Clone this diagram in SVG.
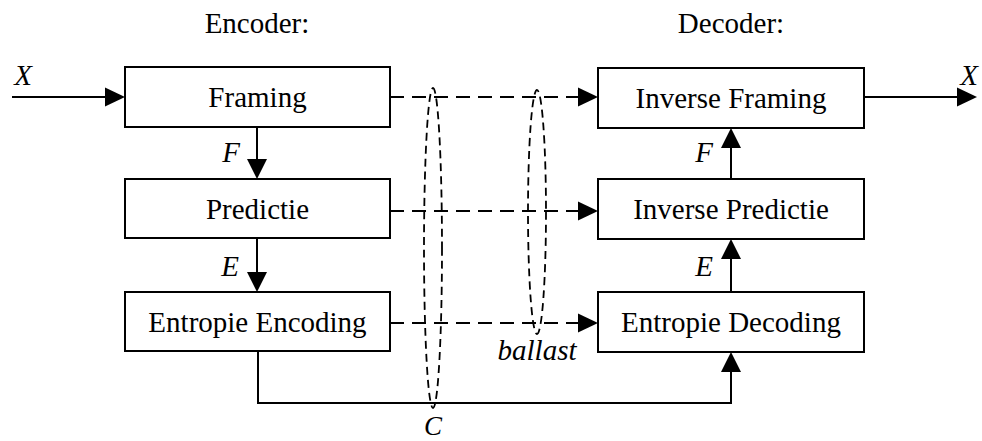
<svg xmlns="http://www.w3.org/2000/svg" width="982" height="441" viewBox="0 0 982 441">
  <style>
    .box { fill: #fff; stroke: #000; stroke-width: 2; }
    .lbl { font-family: "Liberation Serif", "Times New Roman", Times, serif; font-size: 29px; fill: #000; text-anchor: middle; }
    .var { font-family: "Liberation Serif", "Times New Roman", Times, serif; font-size: 29px; font-style: italic; fill: #000; text-anchor: middle; }
    .line { fill: none; stroke: #000; stroke-width: 2; }
    .dash { fill: none; stroke: #000; stroke-width: 2; stroke-dasharray: 14 8; }
    .ring { fill: none; stroke: #000; stroke-width: 1.8; stroke-dasharray: 8 5; }
    .head { fill: #000; stroke: none; }
  </style>

  <!-- Column titles -->
  <text class="lbl" x="257" y="33">Encoder:</text>
  <text class="lbl" x="731" y="33">Decoder:</text>

  <!-- Encoder blocks -->
  <g id="framing">
    <rect class="box" x="125" y="67" width="265" height="60"/>
    <text class="lbl" x="257.5" y="107">Framing</text>
  </g>
  <g id="predictie">
    <rect class="box" x="125" y="179" width="265" height="59"/>
    <text class="lbl" x="257.5" y="219">Predictie</text>
  </g>
  <g id="entropie-encoding">
    <rect class="box" x="125" y="292" width="265" height="59"/>
    <text class="lbl" x="257.5" y="332">Entropie Encoding</text>
  </g>

  <!-- Decoder blocks -->
  <g id="inverse-framing">
    <rect class="box" x="598" y="68" width="266" height="60"/>
    <text class="lbl" x="731" y="108">Inverse Framing</text>
  </g>
  <g id="inverse-predictie">
    <rect class="box" x="598" y="179" width="266" height="60"/>
    <text class="lbl" x="731" y="219">Inverse Predictie</text>
  </g>
  <g id="entropie-decoding">
    <rect class="box" x="598" y="292" width="266" height="60"/>
    <text class="lbl" x="731" y="332">Entropie Decoding</text>
  </g>

  <!-- Connectors -->
  <g id="connectors">
    <!-- input X -->
    <line class="line" x1="12" y1="97" x2="106" y2="97"/>
    <polygon class="head" points="105,87.5 125,97 105,106.5"/>
    <!-- output X -->
    <line class="line" x1="864" y1="97" x2="958" y2="97"/>
    <polygon class="head" points="957,87.5 977,97 957,106.5"/>

    <!-- encoder chain -->
    <line class="line" x1="257" y1="127" x2="257" y2="160"/>
    <polygon class="head" points="247,159 267,159 257,179"/>
    <line class="line" x1="257" y1="238" x2="257" y2="273"/>
    <polygon class="head" points="247,272 267,272 257,292"/>

    <!-- decoder chain -->
    <line class="line" x1="731" y1="179" x2="731" y2="147"/>
    <polygon class="head" points="721,148 741,148 731,128"/>
    <line class="line" x1="731" y1="292" x2="731" y2="258"/>
    <polygon class="head" points="721,259 741,259 731,239"/>

    <!-- side information (dashed) -->
    <line class="dash" x1="390" y1="97" x2="580" y2="97"/>
    <polygon class="head" points="578,87.5 598,97 578,106.5"/>
    <line class="dash" x1="390" y1="211" x2="580" y2="211"/>
    <polygon class="head" points="578,201.5 598,211 578,220.5"/>
    <line class="dash" x1="390" y1="323" x2="580" y2="323"/>
    <polygon class="head" points="578,313.5 598,323 578,332.5"/>

    <!-- coded stream C -->
    <polyline class="line" points="258,351 258,403 731,403 731,372"/>
    <polygon class="head" points="721,372 741,372 731,352"/>

    <!-- groupings -->
    <ellipse class="ring" cx="433" cy="248" rx="9" ry="160"/>
    <ellipse class="ring" cx="537" cy="212" rx="9" ry="122"/>
  </g>

  <!-- Signal labels -->
  <text class="var" x="23" y="85">X</text>
  <text class="var" x="969" y="85">X</text>
  <text class="var" x="231" y="162">F</text>
  <text class="var" x="230" y="276">E</text>
  <text class="var" x="704" y="162">F</text>
  <text class="var" x="704" y="276">E</text>
  <text class="var" x="537" y="360">ballast</text>
  <text class="var" x="433" y="435" style="font-size:27px">C</text>
</svg>
